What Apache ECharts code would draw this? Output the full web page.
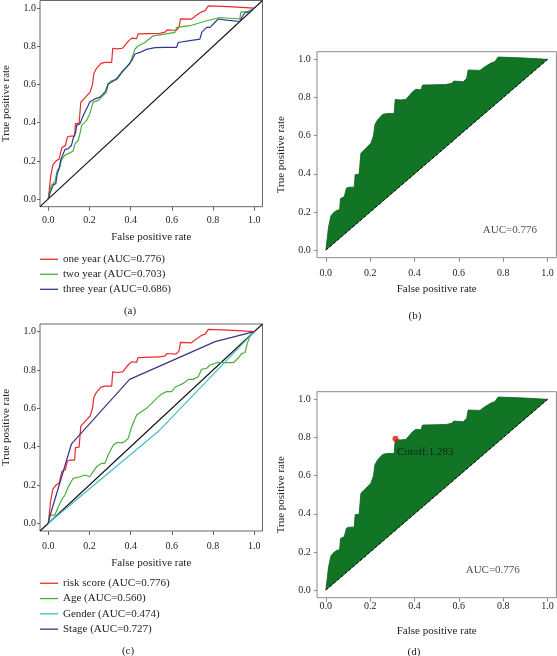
<!DOCTYPE html>
<html><head><meta charset="utf-8">
<script src="https://cdn.jsdelivr.net/npm/echarts@6/dist/echarts.min.js"></script>
<style>html,body{margin:0;padding:0;background:#fff}#c{width:557px;height:656px}</style>
</head><body><div id="c"></div>
<script>
// ---------- data ----------
const tickValues = [0, 0.2, 0.4, 0.6, 0.8, 1.0];
const axisMin = -0.04, axisMax = 1.04;

// risk score / one year ROC
const rocFpr = [0, 0.007, 0.012, 0.023, 0.038, 0.053, 0.062, 0.066, 0.083, 0.093, 0.108, 0.128, 0.132, 0.15, 0.158, 0.18, 0.203, 0.215, 0.221, 0.233, 0.256, 0.275, 0.308, 0.313, 0.335, 0.361, 0.391, 0.406, 0.429, 0.436, 0.541, 0.567, 0.577, 0.62, 0.635, 0.642, 0.695, 0.717, 0.747, 0.762, 0.777, 0.875, 1.0];
const rocTpr = [0, 0.07, 0.12, 0.18, 0.2, 0.21, 0.21, 0.27, 0.28, 0.325, 0.33, 0.33, 0.395, 0.398, 0.507, 0.533, 0.56, 0.6, 0.656, 0.682, 0.711, 0.716, 0.716, 0.79, 0.787, 0.79, 0.83, 0.843, 0.84, 0.865, 0.868, 0.874, 0.886, 0.883, 0.9, 0.944, 0.942, 0.961, 0.982, 0.987, 1.012, 1.008, 1.0];

// two year ROC
const twoFpr = [0, 0.008, 0.016, 0.032, 0.044, 0.057, 0.065, 0.081, 0.105, 0.121, 0.13, 0.146, 0.154, 0.162, 0.186, 0.202, 0.218, 0.243, 0.259, 0.283, 0.291, 0.307, 0.331, 0.348, 0.364, 0.38, 0.396, 0.413, 0.421, 0.437, 0.469, 0.51, 0.566, 0.615, 0.623, 0.688, 0.769, 0.833, 0.93, 0.935, 0.963, 1.0];
const twoTpr = [0, 0.047, 0.073, 0.09, 0.15, 0.17, 0.207, 0.23, 0.242, 0.252, 0.29, 0.308, 0.343, 0.386, 0.412, 0.447, 0.508, 0.517, 0.534, 0.56, 0.603, 0.62, 0.624, 0.647, 0.673, 0.694, 0.708, 0.76, 0.786, 0.803, 0.82, 0.855, 0.864, 0.873, 0.899, 0.908, 0.934, 0.951, 0.943, 0.98, 0.98, 1.0];

// three year ROC
const threeFpr = [0, 0.011, 0.024, 0.037, 0.044, 0.053, 0.06, 0.07, 0.081, 0.097, 0.113, 0.121, 0.133, 0.138, 0.154, 0.17, 0.186, 0.202, 0.227, 0.251, 0.275, 0.291, 0.307, 0.331, 0.356, 0.38, 0.405, 0.421, 0.445, 0.477, 0.518, 0.566, 0.623, 0.631, 0.688, 0.736, 0.745, 0.769, 0.785, 0.825, 0.866, 0.93, 0.939, 0.955, 0.98, 1.0];
const threeTpr = [0, 0.038, 0.073, 0.082, 0.134, 0.16, 0.203, 0.23, 0.259, 0.264, 0.282, 0.317, 0.351, 0.386, 0.395, 0.438, 0.473, 0.508, 0.525, 0.534, 0.56, 0.603, 0.612, 0.63, 0.664, 0.69, 0.725, 0.76, 0.768, 0.784, 0.793, 0.795, 0.795, 0.82, 0.83, 0.838, 0.873, 0.899, 0.899, 0.943, 0.937, 0.93, 0.951, 0.977, 0.98, 1.0];

// Age ROC
const ageFpr = [0, 0.008, 0.032, 0.049, 0.065, 0.081, 0.097, 0.121, 0.154, 0.178, 0.202, 0.218, 0.235, 0.259, 0.275, 0.291, 0.316, 0.332, 0.364, 0.388, 0.405, 0.429, 0.453, 0.477, 0.502, 0.526, 0.55, 0.574, 0.599, 0.615, 0.639, 0.655, 0.68, 0.704, 0.728, 0.744, 0.769, 0.785, 0.817, 0.898, 0.922, 0.939, 0.955, 0.966, 0.979, 1.0];
const ageTpr = [0, 0.043, 0.043, 0.087, 0.122, 0.148, 0.19, 0.235, 0.243, 0.252, 0.243, 0.27, 0.296, 0.313, 0.313, 0.357, 0.409, 0.421, 0.421, 0.443, 0.504, 0.565, 0.583, 0.6, 0.626, 0.652, 0.675, 0.687, 0.687, 0.71, 0.722, 0.73, 0.751, 0.751, 0.765, 0.803, 0.809, 0.826, 0.838, 0.838, 0.861, 0.887, 0.89, 0.939, 0.974, 1.0];

// Gender ROC
const genderFpr = [0, 0.535, 1.0];
const genderTpr = [0, 0.48, 1.0];

// Stage ROC
const stageFpr = [0, 0.01, 0.113, 0.395, 0.81, 1.0];
const stageTpr = [0, 0.045, 0.415, 0.751, 0.948, 1.0];

// chance line
const diagX = [0, 1];
const diagY = [0, 1];

// cutoff point and annotations
const cutoffPoint = [0.314, 0.793];
const cutoffText = 'Cutoff:1.283';
const aucText = 'AUC=0.776';
const aucPosB = [0.83, 0.105];
const aucPosD = [0.753, 0.105];

const legendA = ['one year (AUC=0.776)', 'two year (AUC=0.703)', 'three year (AUC=0.686)'];
const legendC = ['risk score (AUC=0.776)', 'Age (AUC=0.560)', 'Gender (AUC=0.474)', 'Stage (AUC=0.727)'];
const captions = ['(a)', '(b)', '(c)', '(d)'];

// ---------- styling ----------
const FONT = 'Liberation Serif';
const TXT = '#1e1e1e';
const RED = '#ec2a2e', GREEN = '#4cae3f', BLUE = '#2c3b8f', CYAN = '#45bccb', STAGE = '#3a3580', FILL = '#127526';

function pairs(xs, ys) { return xs.map((x, i) => [x, ys[i]]); }

const grids = [
  { left: 40, top: 0.5, width: 222.5, height: 206.2, show: true, borderColor: '#666', borderWidth: 1 },
  { left: 317, top: 51.7, width: 239.4, height: 206, show: true, borderColor: '#8a8a8a', borderWidth: 1 },
  { left: 40, top: 324, width: 222.5, height: 207, show: true, borderColor: '#666', borderWidth: 1 },
  { left: 317, top: 391.7, width: 239.4, height: 206, show: true, borderColor: '#8a8a8a', borderWidth: 1 }
];
const xMargins = [9, 10.5, 10, 4];
const xGaps = [24.8, 26.2, 26.2, 28];
const yMargins = [4, 6.3, 4, 6.3];
const yGaps = [28, 30, 28, 30];

function xAx(i) {
  return {
    type: 'value', gridIndex: i, min: axisMin, max: axisMax,
    axisLine: { show: false, onZero: false },
    axisTick: { show: true, customValues: tickValues, length: 4, lineStyle: { color: grids[i].borderColor, width: 1 } },
    axisLabel: { customValues: tickValues, formatter: v => Number(v).toFixed(1), margin: xMargins[i], fontFamily: FONT, fontSize: 10, color: TXT },
    splitLine: { show: false },
    name: 'False positive rate', nameLocation: 'middle', nameGap: xGaps[i],
    nameTextStyle: { fontFamily: FONT, fontSize: 11, color: TXT }
  };
}
function yAx(i) {
  return {
    type: 'value', gridIndex: i, min: axisMin, max: axisMax,
    axisLine: { show: false, onZero: false },
    axisTick: { show: true, customValues: tickValues, length: 3, lineStyle: { color: grids[i].borderColor, width: 1 } },
    axisLabel: { customValues: tickValues, formatter: v => Number(v).toFixed(1), margin: yMargins[i], fontFamily: FONT, fontSize: 10, color: TXT },
    splitLine: { show: false },
    name: 'True positive rate', nameLocation: 'middle', nameGap: yGaps[i],
    nameTextStyle: { fontFamily: FONT, fontSize: 11, color: TXT }
  };
}

function curve(name, gi, xs, ys, color) {
  return {
    type: 'line', name, xAxisIndex: gi, yAxisIndex: gi, data: pairs(xs, ys),
    symbol: 'none', showSymbol: false, silent: true,
    lineStyle: { color, width: 1.2 }, itemStyle: { color }
  };
}
function abline(gi) {
  return {
    type: 'line', xAxisIndex: gi, yAxisIndex: gi, data: [[axisMin, axisMin], [axisMax, axisMax]],
    symbol: 'none', silent: true, lineStyle: { color: '#111', width: 1.1 }, z: 1
  };
}
function areaPoly(gi) {
  return {
    type: 'custom', xAxisIndex: gi, yAxisIndex: gi, data: pairs(rocFpr, rocTpr), silent: true,
    renderItem: function (params, api) {
      if (params.dataIndex !== 0) return null;
      const pts = rocFpr.map((x, i) => api.coord([x, rocTpr[i]]));
      pts.push(api.coord([diagX[1], diagY[1]]));
      pts.push(api.coord([diagX[0], diagY[0]]));
      return { type: 'polygon', shape: { points: pts }, style: { fill: FILL, stroke: '#0d5f1d', lineWidth: 0.8 } };
    }
  };
}
function dashedDiag(gi) {
  return {
    type: 'line', xAxisIndex: gi, yAxisIndex: gi, data: pairs(diagX, diagY), symbol: 'none', silent: true,
    lineStyle: { color: '#000', width: 1, type: [3, 2] }, z: 5
  };
}
function textAt(gi, pos, text) {
  return {
    type: 'scatter', xAxisIndex: gi, yAxisIndex: gi, data: [pos], symbolSize: 1, silent: true,
    itemStyle: { color: 'rgba(0,0,0,0)' },
    label: { show: true, position: 'inside', formatter: text, fontFamily: FONT, fontSize: 11, color: TXT }
  };
}

const series = [
  // (a)
  curve(legendA[0], 0, rocFpr, rocTpr, RED),
  curve(legendA[1], 0, twoFpr, twoTpr, GREEN),
  curve(legendA[2], 0, threeFpr, threeTpr, BLUE),
  abline(0),
  // (b)
  areaPoly(1), dashedDiag(1), textAt(1, aucPosB, aucText),
  // (c)
  curve(legendC[0], 2, rocFpr, rocTpr, RED),
  curve(legendC[1], 2, ageFpr, ageTpr, GREEN),
  curve(legendC[2], 2, genderFpr, genderTpr, CYAN),
  curve(legendC[3], 2, stageFpr, stageTpr, STAGE),
  abline(2),
  // (d)
  areaPoly(3), dashedDiag(3), textAt(3, aucPosD, aucText),
  {
    type: 'scatter', xAxisIndex: 3, yAxisIndex: 3, data: [cutoffPoint], symbolSize: 6, silent: true, z: 10,
    itemStyle: { color: '#ff1010' },
    label: { show: true, position: [4.6, 16], align: 'left', verticalAlign: 'middle', formatter: cutoffText, fontFamily: FONT, fontSize: 11, color: '#111' }
  }
];

const legendBase = {
  orient: 'vertical', left: 40, icon: 'rect', itemWidth: 18, itemHeight: 1.3, itemGap: 0, padding: 0,
  selectedMode: false
};

const option = {
  animation: false,
  backgroundColor: '#fff',
  grid: grids,
  xAxis: [0, 1, 2, 3].map(xAx),
  yAxis: [0, 1, 2, 3].map(yAx),
  legend: [
    Object.assign({}, legendBase, { data: legendA, top: 251.8, textStyle: { fontFamily: FONT, fontSize: 11, color: TXT, lineHeight: 15 } }),
    Object.assign({}, legendBase, { data: legendC, top: 575.6, textStyle: { fontFamily: FONT, fontSize: 11, color: TXT, lineHeight: 15.3 } })
  ],
  graphic: [
    { type: 'text', x: 130, y: 310.7, style: { text: captions[0], fontFamily: FONT, fontSize: 11, fill: TXT, align: 'center', verticalAlign: 'middle' } },
    { type: 'text', x: 415, y: 316, style: { text: captions[1], fontFamily: FONT, fontSize: 11, fill: TXT, align: 'center', verticalAlign: 'middle' } },
    { type: 'text', x: 128, y: 650.7, style: { text: captions[2], fontFamily: FONT, fontSize: 11, fill: TXT, align: 'center', verticalAlign: 'middle' } },
    { type: 'text', x: 414, y: 652.3, style: { text: captions[3], fontFamily: FONT, fontSize: 11, fill: TXT, align: 'center', verticalAlign: 'middle' } }
  ],
  series
};

const chart = echarts.init(document.getElementById('c'), null, { renderer: 'canvas' });
chart.setOption(option);
</script>
</body></html>
